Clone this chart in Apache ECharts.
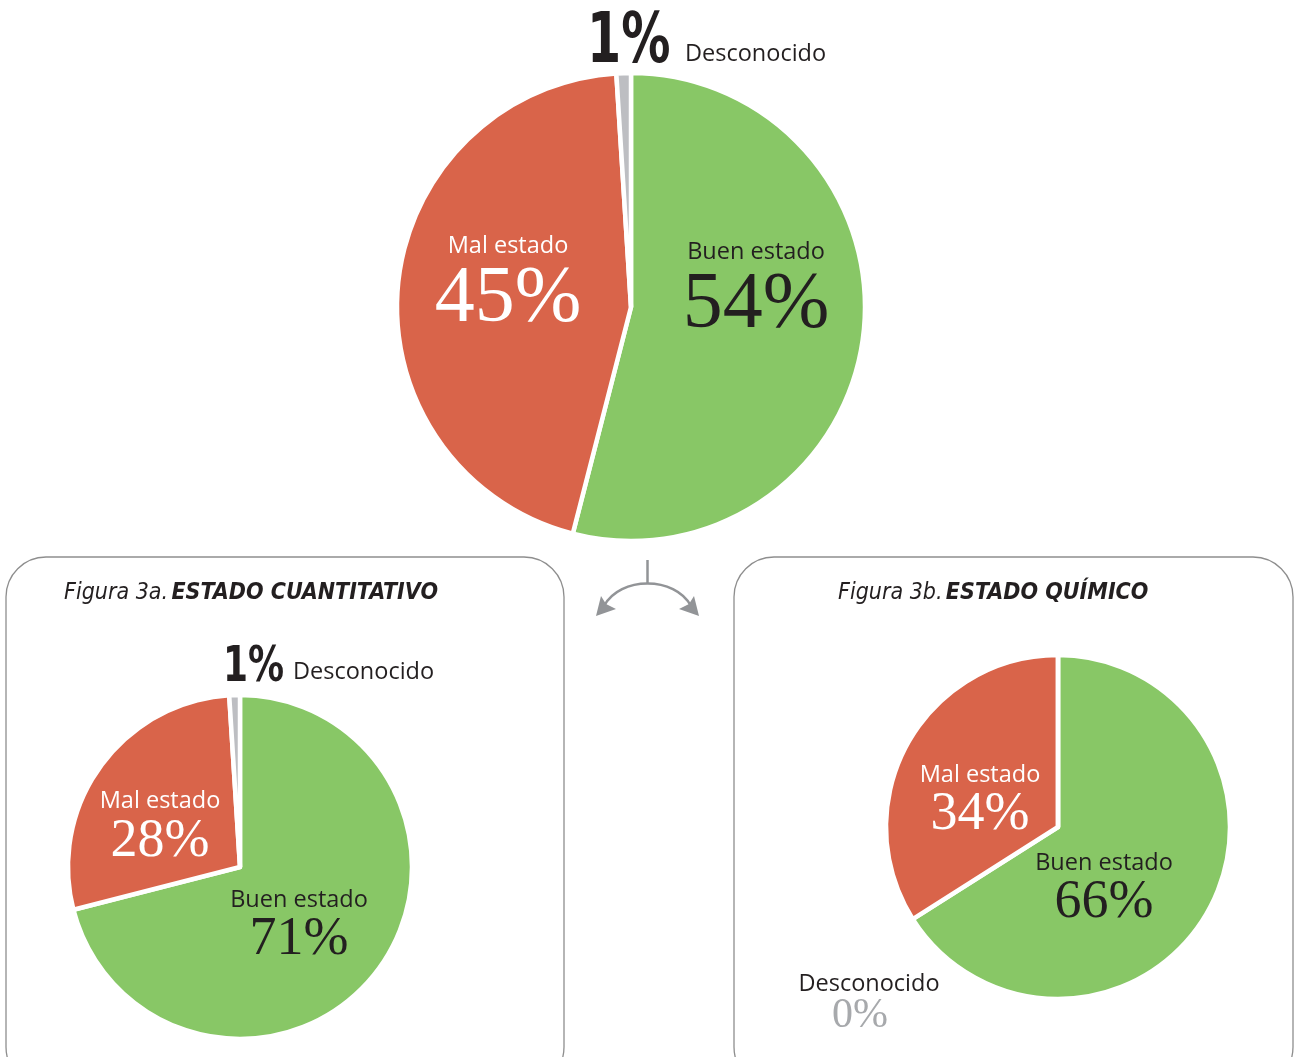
<!DOCTYPE html>
<html><head><meta charset="utf-8">
<script src="https://cdn.jsdelivr.net/npm/echarts@6/dist/echarts.min.js"></script>
<style>html,body{margin:0;padding:0;background:#fff}#c{width:1298px;height:1057px}</style>
</head><body><div id="c"></div>
<script>
const categories = ['Buen estado', 'Mal estado', 'Desconocido'];
const totalValues = [54, 45, 1];
const cuantitativoValues = [71, 28, 1];
const quimicoValues = [66, 34, 0];
const panelTitles = [['Figura 3a.', 'ESTADO CUANTITATIVO'], ['Figura 3b.', 'ESTADO QUÍMICO']];
const colors = ['#88c766', '#d9644a', '#bdbec2'];

const DARK = '#231f20';
const SANS = "'Open Sans', 'Noto Sans', sans-serif";
const NARROW = "'Liberation Sans Narrow', 'DejaVu Sans Condensed', sans-serif";
const SERIF = "'Liberation Serif', serif";

function pie(center, r, values) {
  return {
    type: 'pie', center: center, radius: [0, r], startAngle: 90, clockwise: true, z: 1,
    silent: true, animation: false, label: { show: false }, labelLine: { show: false },
    itemStyle: { borderColor: '#fff', borderWidth: 4.5 },
    data: categories.map((c, i) => ({ name: c, value: values[i], itemStyle: { color: colors[i] } }))
  };
}
function txt(x, y, text, size, color, family, weight, align, sx) {
  return { type: 'text', x: x, y: y, z: 100, silent: true, scaleX: sx || 1,
    style: { text: text, fontSize: size, fill: color, fontFamily: family, fontWeight: weight || 'normal',
      align: align || 'center', verticalAlign: 'middle' } };
}
const pct = v => v + '%';
const titleRich = {
  a: { fontSize: 23, fontStyle: 'italic', fontFamily: NARROW, fill: DARK },
  b: { fontSize: 23, fontStyle: 'italic', fontWeight: 'bold', fontFamily: NARROW, fill: DARK }
};

const graphic = [
  // panels
  { type: 'rect', z: 100, shape: { x: 6, y: 557, width: 558, height: 530, r: 40 }, silent: true,
    style: { fill: 'none', stroke: '#8e8e8e', lineWidth: 1.3 } },
  { type: 'rect', z: 100, shape: { x: 734, y: 557, width: 559, height: 530, r: 40 }, silent: true,
    style: { fill: 'none', stroke: '#8e8e8e', lineWidth: 1.3 } },
  // arrow
  { type: 'line', z: 100, shape: { x1: 647.5, y1: 560, x2: 647.5, y2: 584 }, silent: true,
    style: { stroke: '#929497', lineWidth: 2.5 } },
  { type: 'bezierCurve', z: 100, shape: { x1: 604, y1: 606, cpx1: 620, cpy1: 576, cpx2: 675, cpy2: 576, x2: 691, y2: 606 }, silent: true,
    style: { stroke: '#929497', lineWidth: 2.6, fill: 'none' } },
  { type: 'polygon', z: 100, shape: { points: [[596, 616], [601, 596], [606, 604], [616, 609]] }, silent: true,
    style: { fill: '#929497' } },
  { type: 'polygon', z: 100, shape: { points: [[699, 616], [694, 596], [689, 604], [679, 609]] }, silent: true,
    style: { fill: '#929497' } },
  // panel titles
  { type: 'text', z: 100, x: 64, y: 593, silent: true, style: {
      text: '{a|' + panelTitles[0][0] + '} {b|' + panelTitles[0][1] + '}', verticalAlign: 'middle', align: 'left', rich: titleRich } },
  { type: 'text', z: 100, x: 838, y: 593, silent: true, style: {
      text: '{a|' + panelTitles[1][0] + '} {b|' + panelTitles[1][1] + '}', verticalAlign: 'middle', align: 'left', rich: titleRich } },
  // top pie labels
  txt(587, 44, pct(totalValues[2]), 70, DARK, NARROW, 'bold', 'left', 0.78),
  txt(685, 54, categories[2], 23.5, DARK, SANS, 'normal', 'left'),
  txt(508, 246, categories[1], 23.5, '#fff', SANS),
  txt(508, 300, pct(totalValues[1]), 80, '#fff', SERIF),
  txt(756, 252, categories[0], 23.5, DARK, SANS),
  txt(756, 306, pct(totalValues[0]), 80, DARK, SERIF),
  // bottom-left
  txt(223, 668, pct(cuantitativoValues[2]), 50, DARK, NARROW, 'bold', 'left', 0.8),
  txt(293, 672, categories[2], 23.5, DARK, SANS, 'normal', 'left'),
  txt(160, 801, categories[1], 23.5, '#fff', SANS),
  txt(160, 842, pct(cuantitativoValues[1]), 54, '#fff', SERIF),
  txt(299, 900, categories[0], 23.5, DARK, SANS),
  txt(299, 940, pct(cuantitativoValues[0]), 54, DARK, SERIF),
  // bottom-right
  txt(980, 775, categories[1], 23.5, '#fff', SANS),
  txt(980, 815, pct(quimicoValues[1]), 54, '#fff', SERIF),
  txt(1104, 863, categories[0], 23.5, DARK, SANS),
  txt(1104, 903, pct(quimicoValues[0]), 54, DARK, SERIF),
  txt(869, 984, categories[2], 23.5, DARK, SANS),
  txt(860, 1016, pct(quimicoValues[2]), 42, '#a7a9ac', SERIF)
];

const chart = echarts.init(document.getElementById('c'), null, { renderer: 'canvas' });
chart.setOption({
  backgroundColor: '#fff',
  animation: false,
  series: [
    pie([631, 307], 234, totalValues),
    pie([240, 867], 172, cuantitativoValues),
    pie([1058, 827], 172, quimicoValues)
  ],
  graphic: { elements: graphic, z: 100 }
});
</script></body></html>
